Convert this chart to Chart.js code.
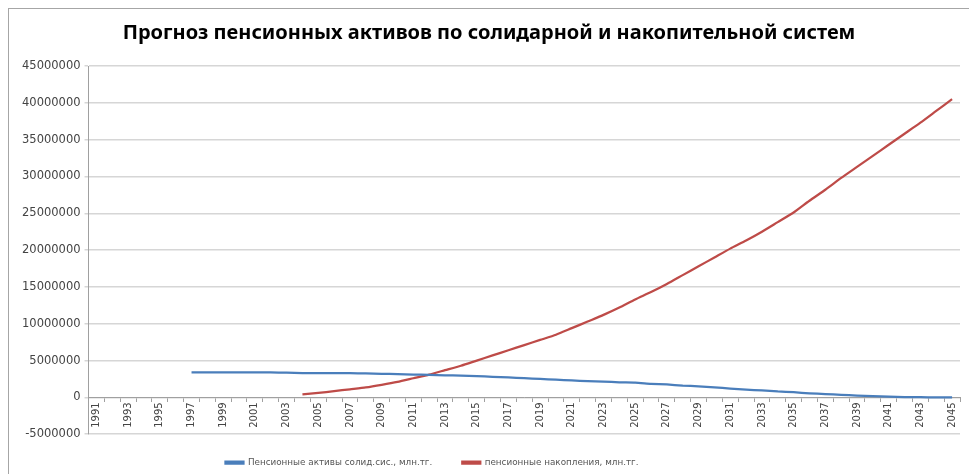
<!DOCTYPE html>
<html>
<head>
<meta charset="utf-8">
<script src="https://cdn.jsdelivr.net/npm/chart.js@4/dist/chart.umd.min.js"></script>
<style>
body { margin: 0; background: #fff; overflow: hidden; }
#frame { position: absolute; left: 8px; top: 8px; width: 975px; height: 480px; border: 1px solid #a6a6a6; }
#pensChart { position: absolute; left: 0; top: 0; }
</style>
</head>
<body>
<div id="frame"><canvas id="pensChart" width="960" height="474"></canvas></div>
<script>
// years on the category axis
var years = [];
for (var y = 1991; y <= 2045; y++) years.push(String(y));

// Пенсионные активы солид.сис. (1991-1996 empty)
var solidValues = [null, null, null, null, null, null,
    3400000, 3400000, 3400000, 3400000, 3400000, 3400000, 3350000, 3300000, 3300000, 3300000,
    3280000, 3250000, 3200000, 3150000, 3100000, 3050000, 3000000, 2950000, 2900000, 2800000,
    2700000, 2600000, 2500000, 2400000, 2300000, 2200000, 2150000, 2050000, 2000000, 1850000,
    1750000, 1600000, 1500000, 1350000, 1200000, 1050000, 950000, 800000, 700000, 550000,
    450000, 350000, 250000, 180000, 100000, 50000, 20000, 0, 0];

// пенсионные накопления (from 2004)
var accumValues = [null, null, null, null, null, null, null, null, null, null, null, null, null,
    400000, 600000, 850000, 1100000, 1350000, 1700000, 2100000, 2600000, 3100000, 3700000,
    4300000, 5000000, 5700000, 6400000, 7100000, 7800000, 8500000, 9400000, 10300000, 11200000,
    12200000, 13300000, 14300000, 15400000, 16600000, 17800000, 19000000, 20200000, 21300000,
    22500000, 23800000, 25100000, 26700000, 28200000, 29800000, 31300000, 32800000, 34300000,
    35800000, 37300000, 38900000, 40500000];

var seriesNames = ['Пенсионные активы солид.сис., млн.тг.', 'пенсионные накопления, млн.тг.'];
var chartTitle = 'Прогноз пенсионных активов по солидарной и накопительной систем';

//move the legend a bit left and up like in the original
var legendShift = {
    id: 'legendShift',
    afterLayout: function(chart) {
        chart.legend.left -= 57;
        chart.legend.right -= 57;
        chart.legend.top -= 6;
        chart.legend.bottom -= 6;
    }
};

var ctx = document.getElementById('pensChart');
var chart = new Chart(ctx, {
    type: 'line',
    data: {
        labels: years,
        datasets: [
            { label: seriesNames[0], data: solidValues, borderColor: '#4a7ebb', backgroundColor: '#4a7ebb',
              borderWidth: 2.25, pointRadius: 0, tension: 0.2 },
            { label: seriesNames[1], data: accumValues, borderColor: '#be4b48', backgroundColor: '#be4b48',
              borderWidth: 2.25, pointRadius: 0, tension: 0.2 }
        ]
    },
    options: {
        responsive: false,
        animation: false,
        layout: { padding: { left: 9, right: 9, top: 0, bottom: 0 } },
        plugins: {
            title: {
                display: true, text: chartTitle, color: '#000',
                font: { family: 'Noto Sans', size: 20, weight: 'bold' },
                padding: { top: 12, bottom: 21 }
            },
            legend: {
                position: 'bottom',
                labels: {
                    boxWidth: 18, boxHeight: 2, color: '#555', padding: 30,
                    font: { family: 'DejaVu Sans', size: 8.8 }
                }
            },
            tooltip: { enabled: false }
        },
        scales: {
            x: {
                position: { y: 0 },
                offset: true,
                grid: { display: true, drawOnChartArea: false, offset: true, tickLength: 4, color: '#a0a0a0' },
                border: { color: '#a0a0a0', width: 1 },
                ticks: {
                    autoSkip: false, maxRotation: 90, minRotation: 90, padding: 1,
                    color: '#444', font: { family: 'DejaVu Sans', size: 10 },
                    callback: function(val, idx) { return idx % 2 === 0 ? years[idx] : ''; }
                }
            },
            y: {
                min: -5000000, max: 45000000,
                ticks: { stepSize: 5000000, color: '#444', padding: 4, font: { family: 'DejaVu Sans', size: 11.5 },
                    callback: function(val) { return String(val); } },
                grid: { color: '#d6d6d6', lineWidth: 1.5, tickLength: 4 },
                border: { color: '#a0a0a0', width: 1 }
            }
        }
    },
    plugins: [legendShift]
});
</script>
</body>
</html>
